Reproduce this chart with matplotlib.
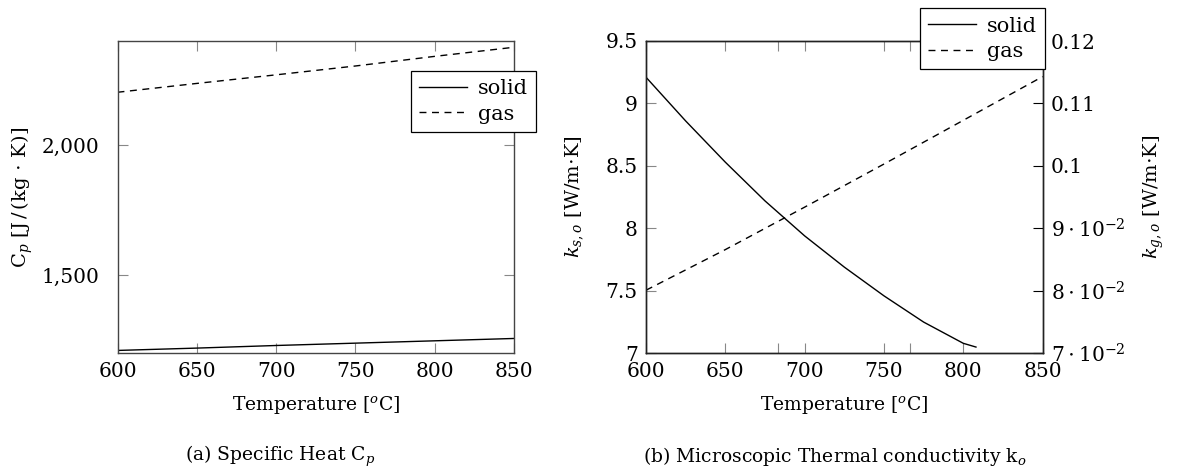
import numpy as np
import matplotlib.pyplot as plt
from matplotlib.lines import Line2D

plt.rcParams['font.family'] = 'DejaVu Serif'
plt.rcParams['mathtext.fontset'] = 'dejavuserif'

# (a) specific heat
temp_cp = [600, 650, 700, 750, 800, 850]
cp_solid = [1211, 1220, 1230, 1239, 1248, 1257]
cp_gas = [2203, 2237, 2270, 2304, 2341, 2376]

# (b) thermal conductivity
temp_ks = [600, 625, 650, 675, 700, 725, 750, 775, 800, 808]
k_solid = [9.21, 8.86, 8.53, 8.22, 7.94, 7.69, 7.46, 7.25, 7.08, 7.05]
temp_kg = [600, 650, 700, 750, 800, 850]
k_gas = [0.0801, 0.0866, 0.0934, 0.1003, 0.1073, 0.1143]

xticks = [600, 650, 700, 750, 800, 850]
cp_ticks = [1500, 2000]
cp_ticklabels = ['1,500', '2,000']
ks_ticks = [7, 7.5, 8, 8.5, 9, 9.5]
ks_ticklabels = ['7', '7.5', '8', '8.5', '9', '9.5']
kg_ticks = [0.07, 0.08, 0.09, 0.10, 0.11, 0.12]
kg_ticklabels = [r'$7\cdot10^{-2}$', r'$8\cdot10^{-2}$', r'$9\cdot10^{-2}$',
                 '0.1', '0.11', '0.12']

FS = 14.5     # tick labels
LFS = 14      # axis labels
DASH = (0, (5, 4))

fig = plt.figure(figsize=(11.78, 4.72), dpi=100)
W, H = 1178, 472
axA = fig.add_axes([117.5 / W, (H - 353.3) / H, 396.6 / W, 312.3 / H])
axB = fig.add_axes([646 / W, (H - 353.3) / H, 396.6 / W, 312.3 / H])

def style(ax, col='#444'):
    for s in ax.spines.values():
        s.set_color(col)
        s.set_linewidth(1.0)

def legend(ax, handles, labels, anchor):
    leg = ax.legend(handles, labels, loc='upper right', bbox_to_anchor=anchor,
                    borderaxespad=0, fontsize=15, frameon=True, fancybox=False,
                    edgecolor='black', framealpha=1, handlelength=2.3,
                    borderpad=0.4, labelspacing=0.3, handletextpad=0.5)
    leg.get_frame().set_linewidth(0.9)
    return leg

# ---- left panel
l1, = axA.plot(temp_cp, cp_solid, color='black', lw=1.0)
l2, = axA.plot(temp_cp, cp_gas, color='black', lw=1.0, ls=DASH)
axA.set_xlim(600, 850)
axA.set_ylim(1200, 2400)
axA.set_xticks(xticks)
axA.set_yticks(cp_ticks)
axA.set_yticklabels(cp_ticklabels)
axA.tick_params(direction='in', length=7, width=0.8, color='#888',
                labelsize=FS, top=True, right=True)
axA.tick_params(axis='y', pad=13)
axA.tick_params(axis='x', pad=6)
style(axA)
axA.set_ylabel(r'C$_{p}$ [J$\,$/$\,$(kg$\,\cdot\,$K)]', fontsize=LFS)
axA.yaxis.set_label_coords(-0.24, 0.5)
axA.yaxis.label.set_va('center')
axA.set_xlabel(r'Temperature [$^{o}$C]', fontsize=13.5)
axA.xaxis.set_label_coords(0.5, -0.165)
axA.xaxis.label.set_va('center')
legend(axA, [l1, l2], ['solid', 'gas'], (1.055, 0.904))

# ---- right panel
axB.plot(temp_ks, k_solid, color='black', lw=1.0)
axB.set_xlim(600, 850)
axB.set_ylim(7, 9.5)
axB.set_xticks(xticks)
axB.set_xticks([600 + 250 / 3, 600 + 500 / 3], minor=True)
axB.set_yticks(ks_ticks)
axB.set_yticklabels(ks_ticklabels)
axB.tick_params(which='both', direction='in', length=7, width=0.8, color='#888',
                labelsize=FS, top=True, right=False)
axB.tick_params(axis='y', pad=6)
axB.tick_params(axis='x', pad=6)
style(axB, '#222')
axB.set_ylabel(r'$k_{s,o}$ [W/m$\cdot$K]', fontsize=LFS)
axB.yaxis.set_label_coords(-0.18, 0.5)
axB.yaxis.label.set_va('center')
axB.set_xlabel(r'Temperature [$^{o}$C]', fontsize=13.5)
axB.xaxis.set_label_coords(0.5, -0.165)
axB.xaxis.label.set_va('center')

axG = axB.twinx()
axG.plot(temp_kg, k_gas, color='black', lw=1.0, ls=DASH)
axG.set_ylim(0.07, 0.12)
axG.set_yticks(kg_ticks)
axG.set_yticklabels(kg_ticklabels)
axG.tick_params(direction='in', length=7, width=0.8, color='black',
                labelsize=FS, pad=6)
style(axG, '#222')
axG.set_ylabel(r'$k_{g,o}$ [W/m$\cdot$K]', fontsize=LFS)
axG.yaxis.set_label_coords(1.28, 0.5)
axG.yaxis.label.set_va('center')

handles = [Line2D([], [], color='black', lw=1.0),
           Line2D([], [], color='black', lw=1.0, ls=DASH)]
legend(axG, handles, ['solid', 'gas'], (1.006, 1.105))

fig.text(280 / W, 1 - 456 / H, r'(a) Specific Heat C$_{p}$', fontsize=13.5,
         ha='center', va='center')
fig.text(835 / W, 1 - 456 / H, r'(b) Microscopic Thermal conductivity k$_{o}$',
         fontsize=13.5, ha='center', va='center')

fig.savefig('out.png', dpi=100)
